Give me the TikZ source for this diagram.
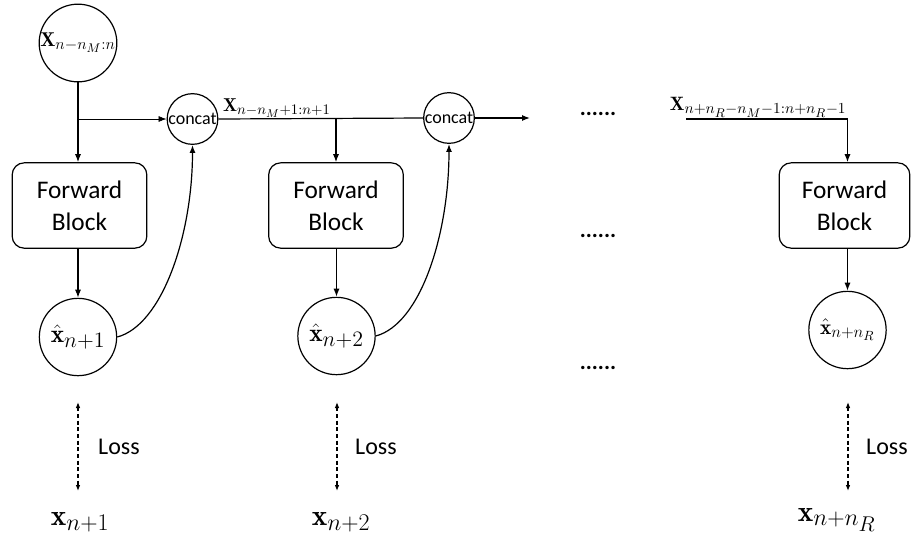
\RequirePackage{fix-cm}
\documentclass[tikz,border=0pt]{standalone}
\usepackage{amsmath}
\usepackage{fontspec}
\setsansfont{Carlito}
\usetikzlibrary{arrows.meta,calc}

% larger subscripts, as in the drawing
\DeclareMathSizes{15}{15}{12}{9.5}
\DeclareMathSizes{14}{14}{11}{8.5}
\DeclareMathSizes{14.5}{14.5}{11.5}{9.5}
\DeclareMathSizes{19}{19}{16.5}{13}
\DeclareMathSizes{16}{16}{12.5}{10}
\DeclareMathSizes{22}{22}{18}{16}

\tikzset{every picture/.style={line width=0.9pt},
	blockbox/.style={draw, rounded corners=9pt, minimum width=101pt, minimum height=64pt, align=center, font=\sffamily\fontsize{19}{24}\selectfont},
	nodecirc/.style={draw, circle, inner sep=0pt, minimum size=58pt},
	catcirc/.style={draw, circle, inner sep=0pt, minimum size=38pt, font=\sffamily\fontsize{13.5}{13.5}\selectfont},
	arr/.style={-{Latex[length=6pt,width=4.5pt]}},
	lossarr/.style={dash pattern=on 3pt off 2pt, {Latex[length=4.5pt,width=3.5pt]}-{Latex[length=4.5pt,width=3.5pt]}},
	losstxt/.style={font=\sffamily\fontsize{18}{18}\selectfont},
	dotstxt/.style={font=\sffamily\bfseries\fontsize{17}{17}\selectfont},
	gttxt/.style={font=\fontsize{22}{22}\selectfont}
}

\begin{document}
\begin{tikzpicture}[x=0.75pt,y=0.75pt,yscale=-1,xscale=1]
	\useasboundingbox (0,0) rectangle (911,544);

	% Text Node
	\node[nodecirc, font=\fontsize{15}{15}\selectfont] (xin) at (78,43) {$\mathbf{X}_{n-n_M:n}$};
	% Text Node
	\node[blockbox] (fb1) at (79.5,205.5) {Forward\\Block};
	% Text Node
	\node[nodecirc, font=\fontsize{19}{19}\selectfont] (xh1) at (78,337) {$\hat{\mathbf{x}}_{n+1}$};
	% Text Node
	\node[catcirc] (cc1) at (192.5,119) {concat};
	% Text Node
	\node[blockbox] (fb2) at (336,205.5) {Forward\\Block};
	% Text Node
	\node[nodecirc, font=\fontsize{19}{19}\selectfont] (xh2) at (336.5,336) {$\hat{\mathbf{x}}_{n+2}$};
	% Text Node
	\node[catcirc] (cc2) at (449,118) {concat};
	% Text Node
	\node[blockbox, minimum width=98pt] (fb3) at (844.5,205.5) {Forward\\Block};
	% Text Node
	\node[nodecirc, font=\fontsize{16}{16}\selectfont] (xh3) at (847.5,330) {$\hat{\mathbf{x}}_{n+n_R}$};

	%Straight Lines
	\draw[arr] (xin.south) -- (xin.south |- fb1.north);
	\draw[arr, line width=0.5pt] (xin.south |- cc1.west) -- (cc1.west);
	\draw[arr] (fb1.south -| xh1.north) -- (xh1.north);
	%Curve Lines
	\draw[arr] (xh1.east) .. controls +(45,-12) and +(0,90) .. (cc1.south);

	%Straight Lines
	\draw (cc1.east) -- (cc2.west);
	\draw[arr] (cc1.east -| fb2.north) -- (fb2.north);
	\node[anchor=south west, inner sep=1pt, font=\fontsize{14}{14}\selectfont] (lab1) at ([xshift=2pt]cc1.east) {$\mathbf{X}_{n-n_M+1:n+1}$};
	\draw[arr] (fb2.south -| xh2.north) -- (xh2.north);
	%Curve Lines
	\draw[arr] (xh2.east) .. controls +(45,-12) and +(0,90) .. (cc2.south);
	\coordinate (out2) at (530,118);
	\draw[arr] (cc2.east) -- (out2);

	% Dots
	\node[dotstxt] (d1) at (598,114) {......};
	\node[dotstxt] (d2) at (598,236) {......};
	\node[dotstxt] (d3) at (598,368) {......};

	%Straight Lines
	\coordinate (in3) at (686,119);
	\draw[arr] (in3) -| (fb3.north -| xh3.north);
	\node[anchor=south west, inner sep=1pt, font=\fontsize{14.5}{14.5}\selectfont] (lab3) at ([xshift=-13.5pt]in3) {$\mathbf{X}_{n+n_R-n_M-1:n+n_R-1}$};
	\draw[arr] (fb3.south -| xh3.north) -- (xh3.north);

	% Loss
	\coordinate (lt1) at (78,402);
	\coordinate (lb1) at (78,491);
	\draw[lossarr] (lt1) -- (lb1);
	\node[losstxt] (ls1) at (119,447) {Loss};
	\coordinate (lt2) at (337,402);
	\coordinate (lb2) at (337,491);
	\draw[lossarr] (lt2) -- (lb2);
	\node[losstxt] (ls2) at (376,447) {Loss};
	\coordinate (lt3) at (848,402);
	\coordinate (lb3) at (848,491);
	\draw[lossarr] (lt3) -- (lb3);
	\node[losstxt] (ls3) at (887,447) {Loss};

	% Targets
	\node[gttxt] (gt1) at (80,522) {$\mathbf{x}_{n+1}$};
	\node[gttxt] (gt2) at (341,522) {$\mathbf{x}_{n+2}$};
	\node[gttxt] (gt3) at (837,520) {$\mathbf{x}_{n+n_R}$};

\end{tikzpicture}
\end{document}
